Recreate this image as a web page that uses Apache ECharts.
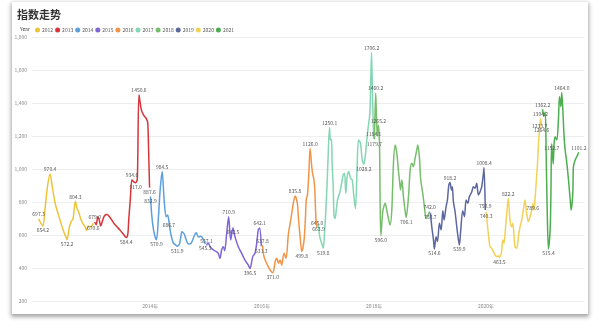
<!DOCTYPE html>
<html>
<head>
<meta charset="utf-8">
<script src="https://cdn.jsdelivr.net/npm/echarts@6/dist/echarts.min.js"></script>
<style>
  html, body { margin: 0; padding: 0; background: #fff; }
  #card { position: absolute; left: 12px; top: 2px; width: 576px; height: 312px; background: #fff;
          box-shadow: 0 2px 4px 1px rgba(0, 0, 0, 0.35); }
  #chart { position: absolute; left: 0; top: 0; width: 600px; height: 329px; }
</style>
</head>
<body>
<div id="card"></div>
<div id="chart"></div>
<script>
// Index closes, one track per calendar year (dates as MM-DD within the year)
const years = ['2012', '2013', '2014', '2015', '2016', '2017', '2018', '2019', '2020', '2021'];

const d2012 = ['01-04','01-14','02-01','02-15','03-03','03-19','04-01','04-21','05-10','05-23','06-12','06-28','07-08','07-21','08-03','08-16','08-31','09-11','09-21','10-04','10-18','11-02','11-12','11-22','12-06','12-26'];
const v2012 = [697.3,680,654.2,760,900,970.4,900,792,730,690,630,592,572.2,640,680,700,804.3,760,741,700,671,650,628,655,648,670.6];

const d2013 = ['01-04','01-14','01-24','02-03','02-12','02-25','03-10','03-25','04-09','04-26','05-11','05-29','06-20','07-11','07-29','08-08','08-14','08-24','09-04','09-16','09-28','10-09','10-20','11-04','11-19','12-06','12-16','12-22','12-28'];
const v2013 = [679.0,662,711,690,655,690,718,725,712,690,668,650,628,604,584.4,605,690,812,934.6,922,917.0,940,1450.6,1360,1327,1307,1280,1100,887.6];

const d2014 = ['01-03','01-12','01-23','02-03','02-11','02-24','03-07','03-20','04-02','04-15','04-24','05-03','05-11','05-22','06-02','06-16','06-26','07-11','07-20','07-27','08-11','08-24','09-08','09-25','10-10','10-28','11-12','11-26','12-10','12-26'];
const v2014 = [832.9,711,630,586,570.9,711,873,984.5,812,711,721,686.7,630,580,550,540,531.9,545,590,620,606,570,545,550,582,614,588,592,580,545.3];

const d2015 = ['01-03','01-14','01-27','02-18','03-07','03-21','04-01','04-12','04-23','05-02','05-15','05-28','06-10','06-25','07-08','07-30','08-21','09-11','10-03','10-14','11-01','11-16','11-27','12-07','12-16','12-27'];
const v2015 = [537.1,552,529,509,500,489,459,509,529,505,610,710.9,570,642.5,590,529,489,448,418,396.5,469,489,550,630,642.1,531.3];

const d2016 = ['01-04','01-11','01-21','02-05','02-22','03-11','03-26','04-06','04-17','04-27','05-08','05-23','06-05','06-21','07-06','07-19','08-03','08-18','08-26','09-05','09-16','10-01','10-10','10-16','10-23','11-01','11-09','11-20','11-27','12-03','12-10','12-14','12-18','12-25'];
const v2016 = [537.8,480,448,418,388,371.0,438,459,428,448,418,489,459,610,691,771,835.8,792,691,590,499.8,570,711,822,842,974,1126.0,1014,964,944,873,771,691,645.0];

const d2017 = ['01-03','01-11','01-27','02-03','02-11','02-20','03-01','03-09','03-16','03-22','03-29','04-02','04-09','04-14','04-21','04-30','05-07','05-26','06-13','06-22','06-30','07-09','07-20','07-31','08-11','08-21','09-01','09-12','09-21','10-04','10-15','10-26','11-06','11-12','11-21','12-04','12-10','12-15','12-22','12-29'];
const v2017 = [663.9,590,539,519.8,610,751,933,1135,1250.1,1176,1180,1035,893,720,700,760,812,873,964,974,853,954,984,944,933,842,760,1014,1176,1155,1054,1028.2,1095,1155,1236,1337,1539,1706.2,1420,1184.1];

const d2018 = ['01-03','01-11','01-17','01-22','01-29','02-05','02-09','02-14','02-27','03-14','03-25','04-04','04-15','04-26','05-07','05-18','05-29','06-08','06-15','06-22','07-01','07-11','07-22','07-29','08-13','08-24','09-04','09-14','09-25','10-06','10-13','10-23','11-01','11-14','11-25','12-06','12-19','12-29'];
const v2018 = [1179.7,1460.2,1300,1200,1265.2,1150,800,596.0,747,792,747,700,660,747,1035,1145,1095,994,933,873,933,832,747,706.1,832,994,1035,1014,1065,1115,1145,1075,933,853,771,700,720,742.0];

const d2019 = ['01-03','01-12','01-23','01-29','02-09','02-18','03-03','03-14','03-25','04-02','04-15','04-24','05-03','05-11','05-20','05-26','06-02','06-13','06-24','07-05','07-11','07-20','08-02','08-13','08-24','09-04','09-14','09-30','10-10','10-21','11-01','11-12','11-23','12-04','12-15','12-19','12-27'];
const v2019 = [733.7,650,570,514.6,590,560,671,630,747,691,771,812,903,918.2,873,893,802,741,650,570,539.9,630,747,711,812,792,832,862,893,883,913,842,862,893,974,1008.4,750.9];

const d2020 = ['01-02','01-09','01-18','01-27','02-07','02-18','02-29','03-11','03-21','03-28','04-06','04-12','04-19','04-27','05-04','05-15','05-25','06-05','06-16','06-23','07-02','07-08','07-19','07-30','08-10','08-21','08-31','09-11','09-22','10-03','10-14','10-25','11-01','11-09','11-15','11-26','12-03','12-09','12-15','12-21','12-28'];
const v2020 = [740.3,671,590,529,519,499,479,469,473,463.5,479,499,570,550,610,731,822.2,691,650,671,590,529,519,590,650,691,751,812,731,681,711,751,789.6,751,812,954,1054,1176,1233.7,1304.2,1264.6];

const d2021 = ['01-04','01-11','01-21','01-27','02-03','02-11','02-22','02-27','03-04','03-14','03-20','03-27','04-07','04-17','04-24','05-03','05-09','05-16','05-24','05-31','06-11','06-22','07-03','07-09','07-20','07-24','08-04','08-15','08-28'];
const v2021 = [1362.2,1320,1345,1100,750,515.4,630,832,1152.7,1030,1155,1196,1176,1297,1438,1378,1464.0,1357,1196,1115,1035,933,812,751,853,1014,1054,1075,1101.2];

// Points that carry a value label: [index, side]
const tags2012 = [[0,'top'],[2,'bottom'],[5,'top'],[12,'bottom'],[16,'top'],[25,'bottom']];
const tags2013 = [[0,'top'],[14,'bottom'],[18,'top'],[20,'bottom'],[22,'top'],[28,'bottom']];
const tags2014 = [[0,'bottom'],[4,'bottom'],[7,'top'],[11,'bottom'],[16,'bottom'],[29,'bottom']];
const tags2015 = [[0,'top'],[11,'top'],[13,'bottom'],[19,'bottom'],[24,'top'],[25,'bottom']];
const tags2016 = [[0,'top'],[5,'bottom'],[16,'top'],[20,'bottom'],[26,'top'],[33,'top']];
const tags2017 = [[0,'bottom'],[3,'bottom'],[8,'top'],[31,'bottom'],[37,'top'],[39,'top']];
const tags2018 = [[0,'bottom'],[1,'top'],[4,'top'],[7,'bottom'],[23,'bottom'],[37,'top']];
const tags2019 = [[0,'bottom'],[3,'bottom'],[13,'top'],[20,'bottom'],[35,'top'],[36,'top']];
const tags2020 = [[0,'bottom'],[9,'bottom'],[16,'top'],[32,'bottom'],[38,'top'],[39,'top'],[40,'bottom']];
const tags2021 = [[0,'top'],[5,'bottom'],[8,'bottom'],[16,'top'],[28,'top']];

const yTicks = { min: 200, max: 1800, step: 200 };

const tracks = [
  [d2012, v2012, tags2012], [d2013, v2013, tags2013], [d2014, v2014, tags2014],
  [d2015, v2015, tags2015], [d2016, v2016, tags2016], [d2017, v2017, tags2017],
  [d2018, v2018, tags2018], [d2019, v2019, tags2019], [d2020, v2020, tags2020],
  [d2021, v2021, tags2021]
];

const palette = ['#EDC33A', '#D8343A', '#5B9FDB', '#7E66D6', '#F29447',
                 '#84D6B5', '#76BE6C', '#5C679E', '#F2D158', '#4DAE4F'];

const FONT = '"Noto Sans CJK SC", "Noto Sans", sans-serif';
const firstTime = new Date(2012, 0, 4).getTime();

const series = years.map((yr, i) => {
  const [md, vals, tags] = tracks[i];
  const tagMap = new Map(tags);
  return {
    name: yr,
    type: 'line',
    smooth: 0.3,
    symbol: 'circle',
    symbolSize: 0,
    showSymbol: true,
    showAllSymbol: true,
    lineStyle: { width: 1.5, color: palette[i] },
    itemStyle: { color: palette[i] },
    emphasis: { disabled: true },
    label: {
      show: false, fontSize: 5, color: '#555', fontFamily: FONT, distance: 2,
      formatter: p => p.value[1].toFixed(1)
    },
    data: vals.map((v, k) => {
      const item = { value: [yr + '-' + md[k], v] };
      if (tagMap.has(k)) item.label = { show: true, position: tagMap.get(k) };
      return item;
    })
  };
});

const chart = echarts.init(document.getElementById('chart'), null, { renderer: 'canvas' });
chart.setOption({
  animation: false,
  backgroundColor: 'transparent',
  textStyle: { fontFamily: FONT },
  color: palette,
  title: [
    { text: '指数走势', left: 12, top: 4,
      textStyle: { fontSize: 11, fontWeight: 'bold', color: '#333', fontFamily: FONT } },
    { text: 'Year', left: 15, top: 21.5,
      textStyle: { fontSize: 5, fontWeight: 'normal', color: '#444', fontFamily: FONT } }
  ],
  legend: {
    data: years,
    left: 30, top: 22.5,
    icon: 'circle',
    itemWidth: 5, itemHeight: 5, itemGap: 2,
    textStyle: { fontSize: 5, color: '#555', fontFamily: FONT, padding: [0, 0, 0, -3] }
  },
  grid: { left: 32, right: 16, top: 37, bottom: 28 },
  xAxis: {
    type: 'time',
    min: new Date(2011, 10, 22).getTime(),
    max: new Date(2021, 9, 1).getTime(),
    maxInterval: 366 * 24 * 3600 * 1000,
    axisLine: { show: false },
    axisTick: { show: false },
    splitLine: { show: false },
    axisLabel: {
      fontSize: 5, color: '#888', margin: 3, fontFamily: FONT,
      formatter: function (value) {
        const d = new Date(value);
        if (d.getMonth() !== 0 || d.getDate() !== 1 || value < firstTime) return '';
        const y = d.getFullYear();
        return y % 2 === 0 ? y + '年' : '';
      }
    }
  },
  yAxis: {
    type: 'value',
    min: yTicks.min, max: yTicks.max, interval: yTicks.step,
    axisLine: { show: false },
    axisTick: { show: false },
    splitLine: { lineStyle: { color: '#eeeeee', width: 1 } },
    axisLabel: { fontSize: 5, color: '#888', margin: 5, fontFamily: FONT }
  },
  series: series
});
</script>
</body>
</html>
